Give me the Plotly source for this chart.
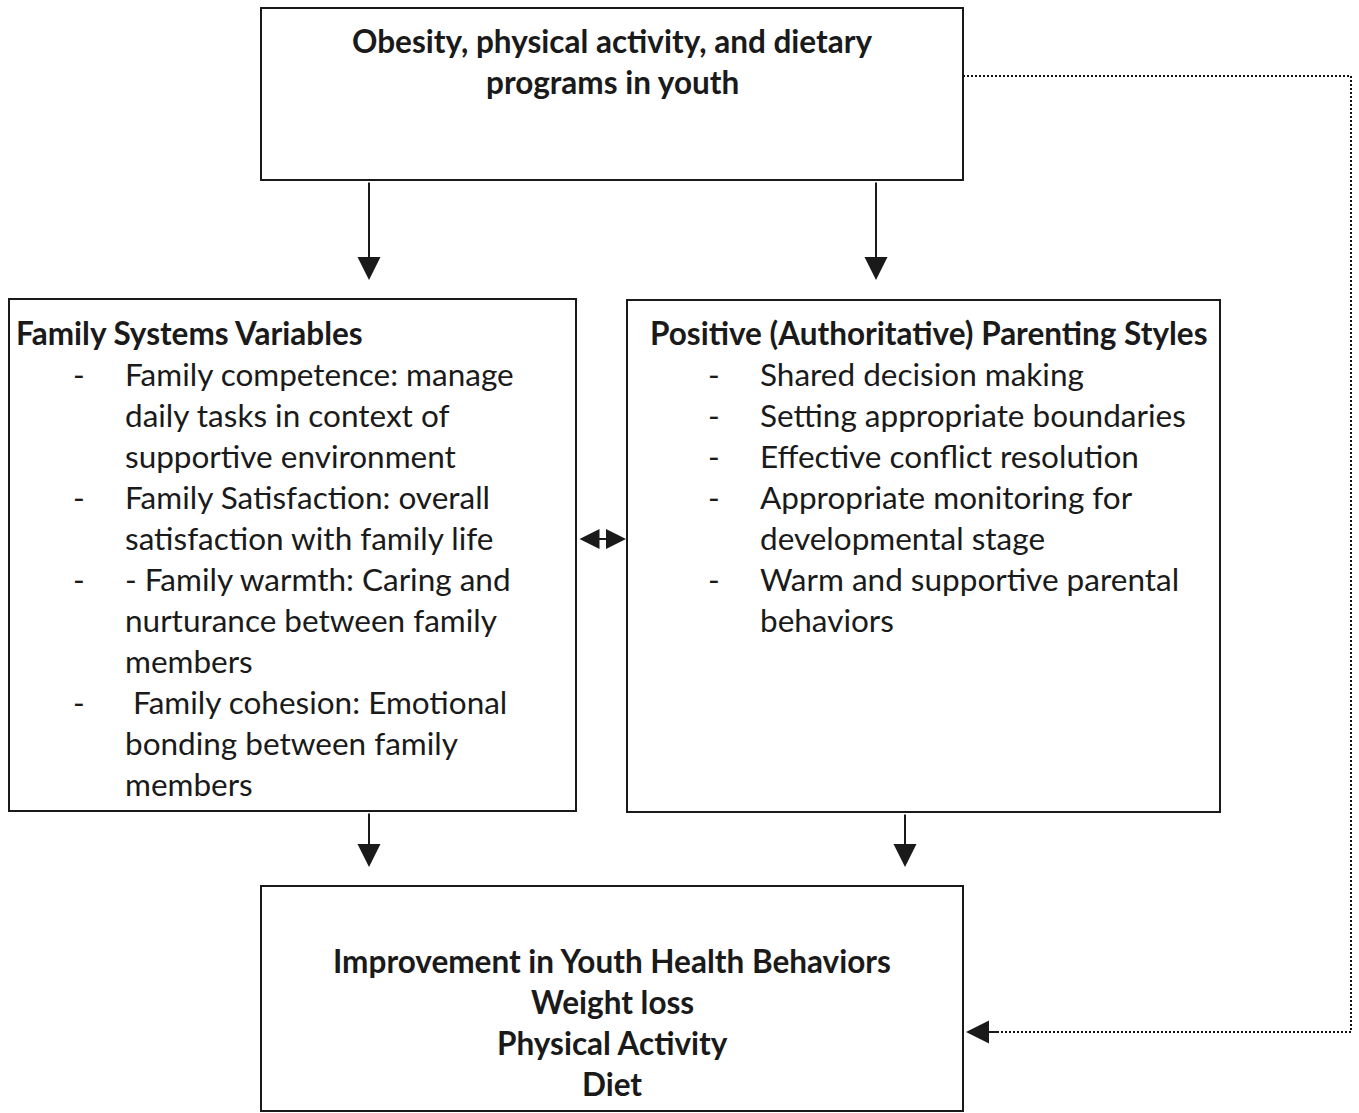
import plotly.graph_objects as go

W, H = 1359, 1113
FONT = "Lato"
FS = 31.5
INK = "#1a1a1a"

# ---- text content ----
top_lines = ["Obesity, physical activity, and dietary", "programs in youth"]
left_title = "Family Systems Variables"
left_lines = [
    ("-", "Family competence: manage"),
    ("", "daily tasks in context of"),
    ("", "supportive environment"),
    ("-", "Family Satisfaction: overall"),
    ("", "satisfaction with family life"),
    ("-", "- Family warmth: Caring and"),
    ("", "nurturance between family"),
    ("", "members"),
    ("-", "\u00a0Family cohesion: Emotional"),
    ("", "bonding between family"),
    ("", "members"),
]
right_title = "Positive (Authoritative) Parenting Styles"
right_lines = [
    ("-", "Shared decision making"),
    ("-", "Setting appropriate boundaries"),
    ("-", "Effective conflict resolution"),
    ("-", "Appropriate monitoring for"),
    ("", "developmental stage"),
    ("-", "Warm and supportive parental"),
    ("", "behaviors"),
]
bottom_lines = ["Improvement in Youth Health Behaviors", "Weight loss", "Physical Activity", "Diet"]

# ---- layout geometry (pixels) ----
boxes = {
    "top": (261, 8, 963, 180),
    "left": (9, 299, 576, 811),
    "right": (627, 300, 1220, 812),
    "bottom": (261, 886, 963, 1111),
}
LH = 41

fig = go.Figure()
fig.add_trace(go.Scatter(x=[0, W], y=[0, H], mode="markers", marker=dict(opacity=0), hoverinfo="skip", showlegend=False))

shapes = []
for (x0, y0, x1, y1) in boxes.values():
    shapes.append(dict(type="rect", x0=x0, y0=y0, x1=x1, y1=y1, xref="x", yref="y",
                       line=dict(color=INK, width=2), fillcolor="rgba(0,0,0,0)"))
# dotted feedback path
dot = dict(color="#111111", width=2, dash="2px,2px")
shapes.append(dict(type="line", x0=963, y0=76, x1=1351, y1=76, line=dot))
shapes.append(dict(type="line", x0=1351, y0=76, x1=1351, y1=1032, line=dot))
shapes.append(dict(type="line", x0=1351, y0=1032, x1=982, y1=1032, line=dot))

ann = []
def txt(x, y, s, bold=False, anchor="left"):
    ann.append(dict(x=x, y=y, xref="x", yref="y", text=f"<b>{s}</b>" if bold else s, showarrow=False,
                    xanchor=anchor, yanchor="middle", font=dict(family=FONT, size=FS, color=INK)))

for i, s in enumerate(top_lines):
    txt(612, 41 + i * LH, s, bold=True, anchor="center")
txt(14, 333, left_title, bold=True)
for i, (d, s) in enumerate(left_lines):
    y = 374 + i * LH
    if d:
        txt(71, y, d)
    txt(123, y, s)
txt(648, 333, right_title, bold=True)
for i, (d, s) in enumerate(right_lines):
    y = 374 + i * LH
    if d:
        txt(706, y, d)
    txt(758, y, s)
for i, s in enumerate(bottom_lines):
    txt(612, 961 + i * LH, s, bold=True, anchor="center")

def arrow(x0, y0, x1, y1, side="end", size=2.3, color=INK, width=2):
    ann.append(dict(x=x1, y=y1, ax=x0, ay=y0, xref="x", yref="y", axref="x", ayref="y",
                    showarrow=True, arrowhead=2, startarrowhead=2, arrowside=side,
                    arrowsize=size, startarrowsize=size, arrowwidth=width, arrowcolor=color, text=""))

arrow(369, 181, 369, 280)
arrow(876, 181, 876, 280)
arrow(369, 812, 369, 867)
arrow(905, 813, 905, 867)
arrow(578, 539, 626, 539, side="end+start", size=2.0)
arrow(1000, 1032, 966, 1032)

fig.update_layout(
    width=W, height=H, margin=dict(l=0, r=0, t=0, b=0),
    paper_bgcolor="white", plot_bgcolor="white",
    xaxis=dict(range=[0, W], visible=False, fixedrange=True),
    yaxis=dict(range=[H, 0], visible=False, fixedrange=True),
    shapes=shapes, annotations=ann, showlegend=False,
)
fig.write_html("out.html", config={"displayModeBar": False},
               post_script="document.body.style.margin='0';document.body.style.overflow='hidden';")
